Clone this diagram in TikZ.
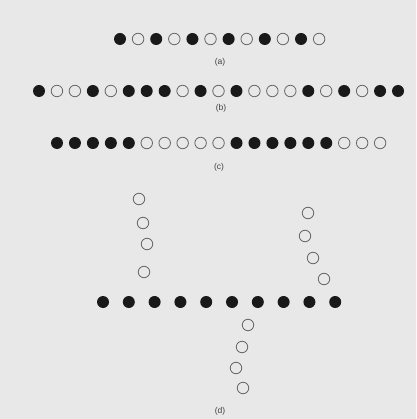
\documentclass[tikz,border=0pt]{standalone}
\usepackage{fontspec}
\setmainfont{Liberation Sans}
\usetikzlibrary{positioning}
\definecolor{paper}{HTML}{E8E8E8}

\begin{document}
\begin{tikzpicture}[x=1pt, y=-1pt,
  full/.style={circle, fill=black!90, minimum size=12pt, inner sep=0pt},
  empty/.style={circle, draw=black!60, line width=0.8pt, minimum size=11.5pt, inner sep=0pt},
  lbl/.style={font=\fontsize{8.5}{10}\selectfont, text=black!75}
]
  % background
  \fill[paper] (0,0) rectangle (416,419);
  \useasboundingbox (0,0) rectangle (416,419);

  % Row (a)
  \foreach \s [count=\i] in {full,empty,full,empty,full,empty,full,empty,full,empty,full,empty} {
    \node[\s] (a\i) at ({120+18.1*(\i-1)}, 39) {};
  }
  \node[lbl] (la) at (220, 62) {(a)};

  % Row (b)
  \foreach \s [count=\i] in {full,empty,empty,full,empty,full,full,full,empty,full,empty,full,empty,empty,empty,full,empty,full,empty,full,full} {
    \node[\s] (b\i) at ({39+17.95*(\i-1)}, 91) {};
  }
  \node[lbl] (lb) at (221, 108) {(b)};

  % Row (c)
  \foreach \s [count=\i] in {full,full,full,full,full,empty,empty,empty,empty,empty,full,full,full,full,full,full,empty,empty,empty} {
    \node[\s] (c\i) at ({57+17.95*(\i-1)}, 143) {};
  }
  \node[lbl] (lc) at (219, 167) {(c)};

  % Row (d): the chain
  \foreach \i in {1,...,10} {
    \node[full] (d\i) at ({103+25.8*(\i-1)}, 302) {};
  }

  % Open circles off the chain
  \foreach \x/\y [count=\i] in {139/199, 143/223, 147/244, 144/272} {
    \node[empty] (l\i) at (\x, \y) {};
  }
  \foreach \x/\y [count=\i] in {308/213, 305/236, 313/258, 324/279} {
    \node[empty] (r\i) at (\x, \y) {};
  }
  \foreach \x/\y [count=\i] in {248/325, 242/347, 236/368, 243/388} {
    \node[empty] (u\i) at (\x, \y) {};
  }
  \node[lbl] (ld) at (220, 411) {(d)};
\end{tikzpicture}
\end{document}
